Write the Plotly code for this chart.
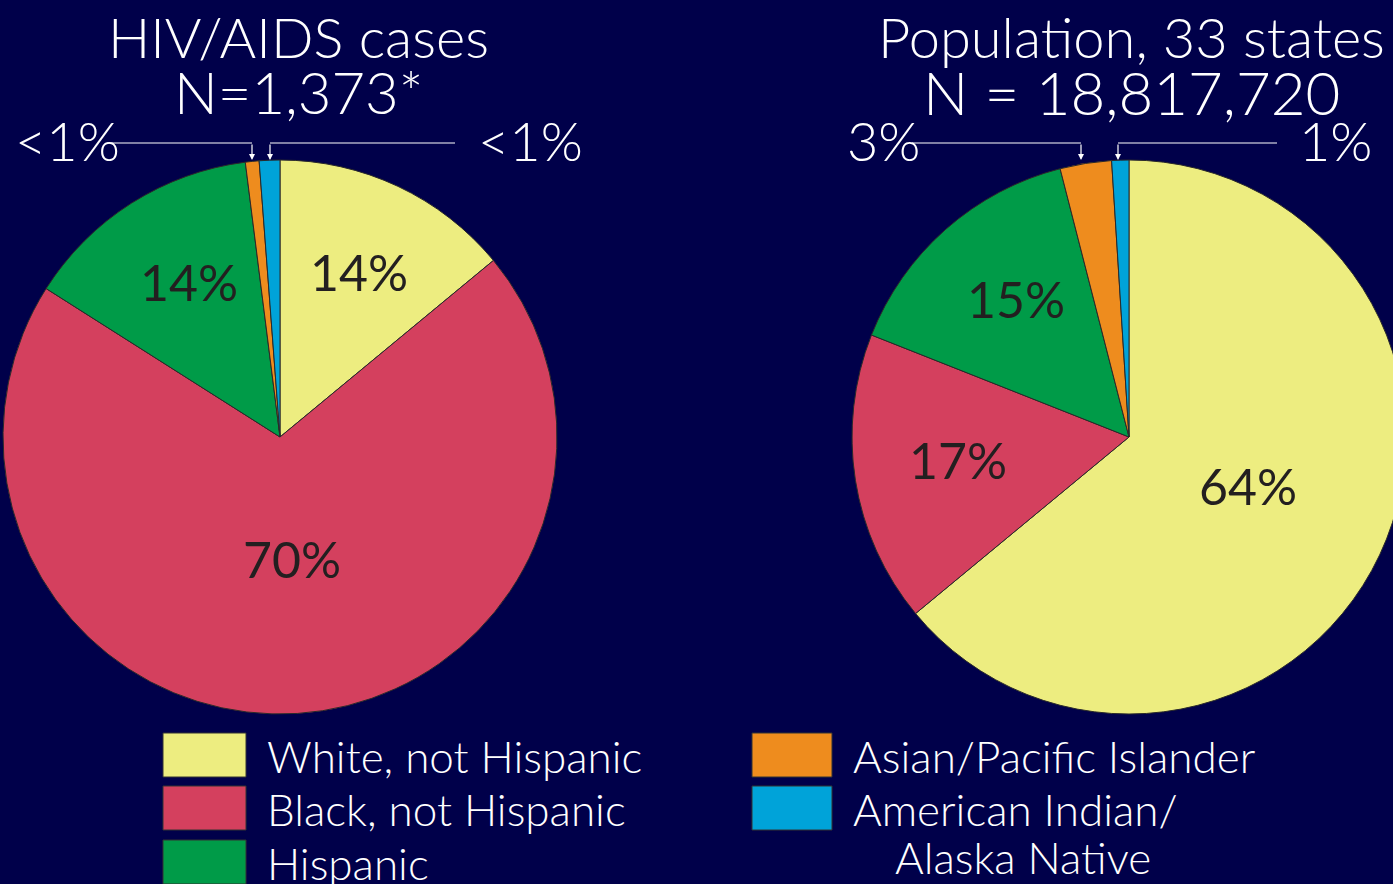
import math
import plotly.graph_objects as go

W, H = 1407, 884   # a bit wider than the window: the right pie is cut at the edge
BG = '#00004a'
FONT = 'Lato'

groups = ['White, not Hispanic', 'Black, not Hispanic', 'Hispanic',
          'Asian/Pacific Islander', 'American Indian/<br>Alaska Native']
colors = ['#eded80', '#d4405e', '#009b48', '#ee8c1e', '#00a3d9']

# HIV/AIDS cases (percent of cases)
cases_pct = [14, 70, 14, 0.8, 1.2]
cases_lbl = ['14%', '70%', '14%', '<1%', '<1%']

# population of 33 states (percent)
pop_pct = [64, 17, 15, 3, 1]
pop_lbl = ['64%', '17%', '15%', '3%', '1%']

titles = [('HIV/AIDS cases', 'N=1,373*'), ('Population, 33 states', 'N = 18,817,720')]


def px2paper(x, y):
    return x / W, 1 - y / H


def text(x, y, s, size, color='white', xanchor='center', weight=300):
    px, py = px2paper(x, y)
    fig.add_annotation(x=px, y=py, xref='paper', yref='paper', text=s, showarrow=False,
                       xanchor=xanchor, yanchor='middle',
                       font=dict(family=FONT, size=size, color=color, weight=weight))


# pie geometry in pixels (center x, center y, radius)
pies = [(280, 437, 277), (1129, 437, 277)]

fig = go.Figure()
for (cx, cy, r), vals in zip(pies, [cases_pct, pop_pct]):
    x0, _ = px2paper(cx - r, 0)
    x1, _ = px2paper(cx + r, 0)
    _, y0 = px2paper(0, cy + r)
    _, y1 = px2paper(0, cy - r)
    fig.add_trace(go.Pie(
        values=vals, labels=groups, sort=False, direction='clockwise', rotation=0,
        marker=dict(colors=colors, line=dict(color='#2a2a2a', width=1)),
        textinfo='none', hoverinfo='label+percent', showlegend=False,
        domain=dict(x=[max(x0, 0), min(x1, 1)], y=[y0, y1]),
    ))

# inside labels placed on each slice's bisector
for (cx, cy, r), vals, lbls in zip(pies, [cases_pct, pop_pct], [cases_lbl, pop_lbl]):
    tot = sum(vals)
    start = 0
    for v, lab in zip(vals, lbls):
        share = v / tot
        mid = (start + share / 2) * 2 * math.pi
        start += share
        if share < 0.05:
            continue
        rf = 0.46 if share > 0.5 else 0.64
        text(cx + rf * r * math.sin(mid) + 4, cy - rf * r * math.cos(mid) - 5, lab, 50,
             '#231f20', weight=400)

# titles
for tx, (t1, t2), s2 in zip([298, 1131], titles, [58, 60]):
    text(tx, 37, t1, 56)
    text(tx, 92, t2, s2)

# small-slice callouts: label, line, arrow
callouts = [
    (cases_lbl[3], 67, 107, 252),
    (cases_lbl[4], 530, 455, 270),
    (pop_lbl[3], 883, 912, 1081),
    (pop_lbl[4], 1335, 1277, 1118),
]
ly = 143
for lab, tx, lx, ax in callouts:
    text(tx, 140, lab, 54)
    a0, yy = px2paper(lx, ly)
    a1, _ = px2paper(ax, ly)
    fig.add_shape(type='line', xref='paper', yref='paper', x0=a0, x1=a1, y0=yy, y1=yy,
                  line=dict(color='white', width=1.2))
    tx_, ty_ = px2paper(ax, 160)
    fig.add_annotation(x=tx_, y=ty_, xref='paper', yref='paper', ax=0, ay=-17, text='',
                       showarrow=True, arrowhead=2, arrowsize=1, arrowwidth=1.2, arrowcolor='white')

# legend drawn as boxes + text
legend_pos = [(163, 733, 83), (163, 786, 83), (163, 840, 83), (752, 733, 80), (752, 786, 80)]
for (bx, by, bw), g, c in zip(legend_pos, groups, colors):
    x0, y1 = px2paper(bx, by)
    x1, y0 = px2paper(bx + bw, by + 44)
    fig.add_shape(type='rect', xref='paper', yref='paper', x0=x0, x1=x1, y0=y0, y1=y1,
                  fillcolor=c, line=dict(color='#333333', width=1))
    lines = g.split('<br>')
    text(bx + bw + 19, by + 23, lines[0], 44, xanchor='left')
    if len(lines) > 1:
        text(bx + 271, by + 71, lines[1], 44)

fig.update_layout(width=W, height=H, margin=dict(l=0, r=0, t=0, b=0),
                  paper_bgcolor=BG, plot_bgcolor=BG)
fig.write_html('out.html', config={'displayModeBar': False}, post_script=(
    "document.body.style.margin='0';"
    "document.body.style.overflow='hidden';"
    "document.documentElement.style.overflow='hidden';"))
